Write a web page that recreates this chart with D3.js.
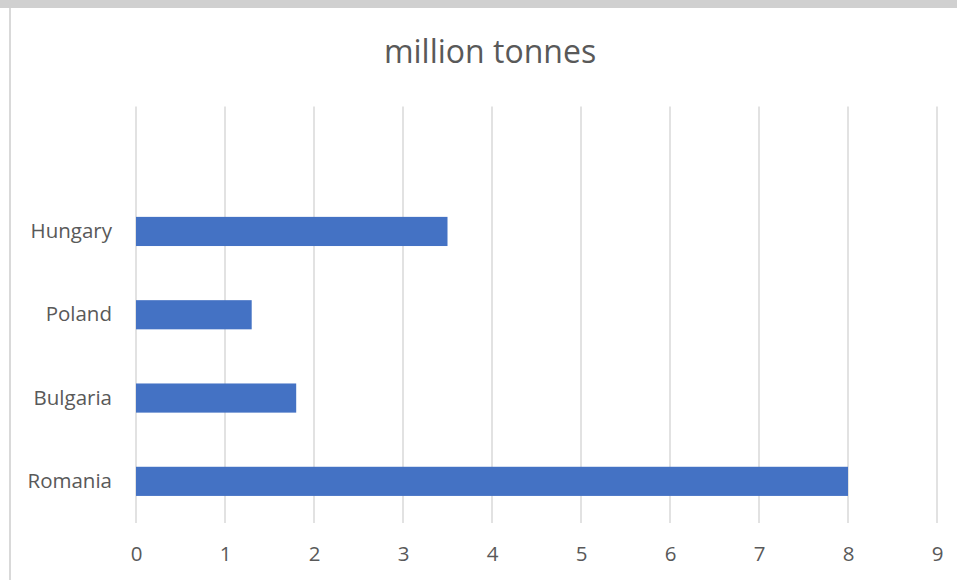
<!DOCTYPE html>
<html>
<head>
<meta charset="utf-8">
<script src="https://cdn.jsdelivr.net/npm/d3@7"></script>
<style>
  html, body { margin: 0; padding: 0; background: #fff; }
  svg { display: block; font-family: "Open Sans", sans-serif; }
</style>
</head>
<body>
<div id="chart"></div>
<script>
// chart data, top row is an empty category slot
var categories = ["", "Hungary", "Poland", "Bulgaria", "Romania"];
var values = [null, 3.5, 1.3, 1.8, 8];
var xTicks = [0, 1, 2, 3, 4, 5, 6, 7, 8, 9];
var title = "million tonnes";

var width = 957, height = 580;
var plot = {left: 136, right: 937, top: 106.5, bottom: 523};

var svg = d3.select("#chart").append("svg")
    .attr("width", width)
    .attr("height", height);

/* frame: gray band on top, thin border on the left */
svg.append("rect")
    .attr("x", 0).attr("y", 0)
    .attr("width", width).attr("height", 8)
    .attr("fill", "#d0d0d0");
svg.append("line")
    .attr("x1", 10).attr("x2", 10)
    .attr("y1", 8).attr("y2", height)
    .attr("stroke", "#d9d9d9")
    .attr("stroke-width", 2);

var x = d3.scaleLinear().domain([0, 9]).range([plot.left, plot.right]);
var y = d3.scaleBand().domain(categories).range([plot.top, plot.bottom])
    .paddingInner(0.65).paddingOuter(0.325);

/* vertical gridlines */
svg.append("g").selectAll("line")
    .data(xTicks)
    .enter().append("line")
    .attr("x1", function (d) { return x(d); })
    .attr("x2", function (d) { return x(d); })
    .attr("y1", plot.top)
    .attr("y2", plot.bottom)
    .attr("stroke", "#d9d9d9")
    .attr("stroke-width", 1.5);

/* bars */
var rows = categories.map(function (c, i) { return {name: c, value: values[i]}; })
    .filter(function (d) { return d.value !== null; });
svg.append("g").selectAll("rect")
    .data(rows)
    .enter().append("rect")
    .attr("x", x(0))
    .attr("y", function (d) { return y(d.name); })
    .attr("width", function (d) { return x(d.value) - x(0); })
    .attr("height", y.bandwidth())
    .attr("fill", "#4472c4");

/* x axis tick labels */
var xAxis = svg.append("g")
    .attr("transform", "translate(0," + plot.bottom + ")")
    .call(d3.axisBottom(x).tickValues(xTicks).tickSize(0).tickPadding(23).tickFormat(d3.format("d")));
xAxis.select(".domain").remove();
xAxis.selectAll("text")
    .attr("fill", "#595959")
    .style("font-size", "20.5px")
    .style("font-family", "'Open Sans', sans-serif");

/* category labels */
var yAxis = svg.append("g")
    .attr("transform", "translate(" + (plot.left - 24) + ",0)")
    .call(d3.axisLeft(y).tickSize(0).tickPadding(0));
yAxis.select(".domain").remove();
yAxis.selectAll("text")
    .attr("fill", "#595959")
    .style("font-size", "20.5px")
    .style("font-family", "'Open Sans', sans-serif");

/* title */
svg.append("text")
    .attr("x", 490)
    .attr("y", 63)
    .attr("text-anchor", "middle")
    .attr("fill", "#595959")
    .style("font-size", "32px")
    .text(title);
</script>
</body>
</html>
